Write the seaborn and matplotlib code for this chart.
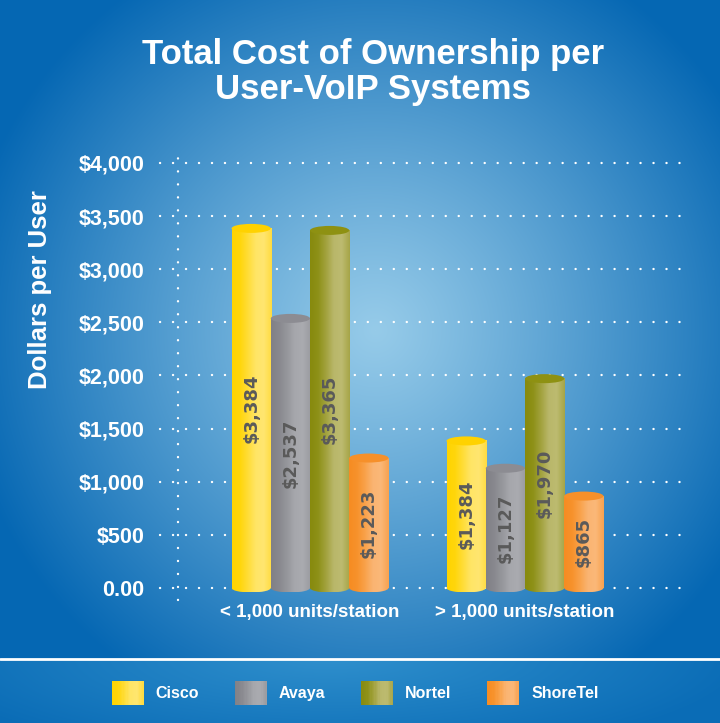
import numpy as np
import pandas as pd
import matplotlib
matplotlib.use("Agg")
import matplotlib.pyplot as plt
import seaborn as sns
from matplotlib.colors import LinearSegmentedColormap, to_rgb, to_rgba
from matplotlib.patches import Ellipse, Rectangle, Patch
from matplotlib.legend_handler import HandlerBase
from matplotlib.lines import Line2D

# ---------------- data ----------------
categories = ["< 1,000 units/station", "> 1,000 units/station"]
vendors = ["Cisco", "Avaya", "Nortel", "ShoreTel"]
cisco = [3384, 1384]
avaya = [2537, 1127]
nortel = [3365, 1970]
shoretel = [1223, 865]
y_ticks = [0, 500, 1000, 1500, 2000, 2500, 3000, 3500, 4000]
y_tick_labels = ["0.00", "$500", "$1,000", "$1,500", "$2,000",
                 "$2,500", "$3,000", "$3,500", "$4,000"]
title = "Total Cost of Ownership per\nUser-VoIP Systems"
y_label = "Dollars per User"

series = {"Cisco": cisco, "Avaya": avaya, "Nortel": nortel, "ShoreTel": shoretel}
df = pd.DataFrame([
    {"category": c, "vendor": v, "value": series[v][i]}
    for v in vendors for i, c in enumerate(categories)
])

# ---------------- styles ----------------
sns.set_theme(style="white")
plt.rcParams["font.family"] = ["Liberation Sans", "DejaVu Sans"]

base = {"Cisco": "#ffd700", "Avaya": "#8a8a90", "Nortel": "#8d9014", "ShoreTel": "#f7922c"}
grads = {
    "Cisco": ["#ffd400", "#ffd60c", "#ffdd38", "#ffe566", "#ffe670", "#ffdc40"],
    "Avaya": ["#808086", "#88888e", "#96979c", "#a6a7ac", "#aaabb0", "#9a9ba0"],
    "Nortel": ["#878a0e", "#8e9118", "#a2a23e", "#b9b76a", "#bdbb70", "#a6a548"],
    "ShoreTel": ["#f68c22", "#f7922c", "#f9a24a", "#fab472", "#fbb878", "#f8a250"],
}
tops = {"Cisco": "#ffd200", "Avaya": "#8c8c92", "Nortel": "#8e9112", "ShoreTel": "#f6902a"}
cmaps = {v: LinearSegmentedColormap.from_list(v, grads[v]) for v in vendors}

W, H = 720, 723
fig = plt.figure(figsize=(W / 100, H / 100), dpi=100)

# background radial gradient
bg = fig.add_axes([0, 0, 1, 1], zorder=-10)
yy, xx = np.mgrid[0:H, 0:W]
r = np.sqrt((xx - 375) ** 2 + (yy - 330) ** 2)
t = np.clip(r / 420, 0, 1) ** 1.1
c0 = np.array(to_rgb("#96cbe9"))
c1 = np.array(to_rgb("#0567b3"))
img = c0 * (1 - t)[..., None] + c1 * t[..., None]
mask = yy > 659
r2 = np.sqrt((xx - 330) ** 2 + ((yy - 655) * 4) ** 2)
t2 = np.clip(r2 / 420, 0, 1)
band = np.array(to_rgb("#3090cd")) * (1 - t2)[..., None] + np.array(to_rgb("#0a6cb6")) * t2[..., None]
img[mask] = band[mask]
bg.imshow(img, extent=[0, 1, 0, 1], aspect="auto", origin="upper")
bg.set_axis_off()

# main axes
ax = fig.add_axes([178 / W, (H - 600) / H, 502 / W, (600 - 147) / H])
ax.patch.set_alpha(0)
sns.barplot(data=df, x="category", y="value", hue="vendor", order=categories,
            hue_order=vendors, palette=base, width=0.73, saturation=1,
            legend=False, ax=ax)

XL = (-0.614, 1.721)
YL = (-113, 4150)
px_per_unit = 453 / (YL[1] - YL[0])
eh = 9 / px_per_unit

dot = dict(color="white", lw=1.7, ls=(0, (0.05, 5.45)), dash_capstyle="round")
for yv in y_ticks:
    ax.axhline(yv, xmin=-0.036, xmax=1.0, clip_on=False, zorder=0.5, **dot)
ax.axvline(XL[0], clip_on=False, zorder=0.5, **dot)

base_rgba = {v: to_rgba(c) for v, c in base.items()}
bars = list(ax.patches)
for p in bars:
    fc = p.get_facecolor()
    vendor = min(vendors, key=lambda v: sum((a - b) ** 2 for a, b in zip(fc, base_rgba[v])))
    x0, w, h = p.get_x(), p.get_width(), p.get_height()
    xc = x0 + w / 2
    p.set_visible(False)
    grad = cmaps[vendor](np.linspace(0, 1, 64))[None, :, :]
    ax.imshow(grad, extent=[x0, x0 + w, 0, h], aspect="auto", zorder=2,
              interpolation="bilinear")
    ell = Ellipse((xc, 0), w, eh, transform=ax.transData)
    im2 = ax.imshow(grad, extent=[x0, x0 + w, -eh / 2, 0], aspect="auto",
                    zorder=2, interpolation="bilinear")
    im2.set_clip_path(ell)
    ax.add_patch(Ellipse((xc, h), w, eh, facecolor=tops[vendor],
                         edgecolor="none", zorder=3))
    ax.text(xc, h / 2, f"${h:,.0f}", rotation=90, ha="center", va="center",
            color="#5a5a5a", fontweight="bold", fontsize=13,
            family=["DejaVu Sans"], zorder=4)

ax.set_xlim(*XL)
ax.set_ylim(*YL)
ax.set_yticks(y_ticks, labels=y_tick_labels)
ax.set_xticks([0, 1], labels=categories)
ax.tick_params(axis="y", length=0, pad=24, labelcolor="white", labelsize=15.5)
ax.tick_params(axis="x", length=0, pad=3, labelcolor="white", labelsize=13.5)
for lab in ax.get_yticklabels() + ax.get_xticklabels():
    lab.set_fontweight("bold")
ax.set_xlabel("")
ax.set_ylabel("")
for s in ax.spines.values():
    s.set_visible(False)
ax.grid(False)

# title and y label
fig.text(373 / W, 1 - 72 / H, title, ha="center", va="center", color="white",
         fontsize=25, fontweight="bold", linespacing=1.08)
fig.text(40 / W, 1 - 290 / H, y_label, rotation=90, ha="center", va="center",
         color="white", fontsize=18.5, fontweight="bold")

# separator line
fig.add_artist(Line2D([0, 1], [1 - 659 / H, 1 - 659 / H], color="white", lw=2,
                      transform=fig.transFigure))


class GradHandler(HandlerBase):
    def __init__(self, cmap):
        super().__init__()
        self.cmap = cmap

    def create_artists(self, legend, orig_handle, xdescent, ydescent, width,
                       height, fontsize, trans):
        n = 24
        arts = []
        for i in range(n):
            arts.append(Rectangle((-xdescent + width * i / n, -ydescent),
                                  width / n * 1.05, height,
                                  facecolor=self.cmap((i + 0.5) / n),
                                  edgecolor="none", transform=trans))
        return arts


handles = [Patch(label=v) for v in vendors]
hmap = {h: GradHandler(cmaps[v]) for h, v in zip(handles, vendors)}
leg = fig.legend(handles=handles, handler_map=hmap, ncol=4, loc="center",
                 bbox_to_anchor=(355 / W, 1 - 693 / H), frameon=False,
                 handlelength=2.0, handleheight=2.0, handletextpad=0.75,
                 columnspacing=2.24, prop={"weight": "bold", "size": 11.5})
for txt in leg.get_texts():
    txt.set_color("white")

fig.savefig("out.png", dpi=100)
